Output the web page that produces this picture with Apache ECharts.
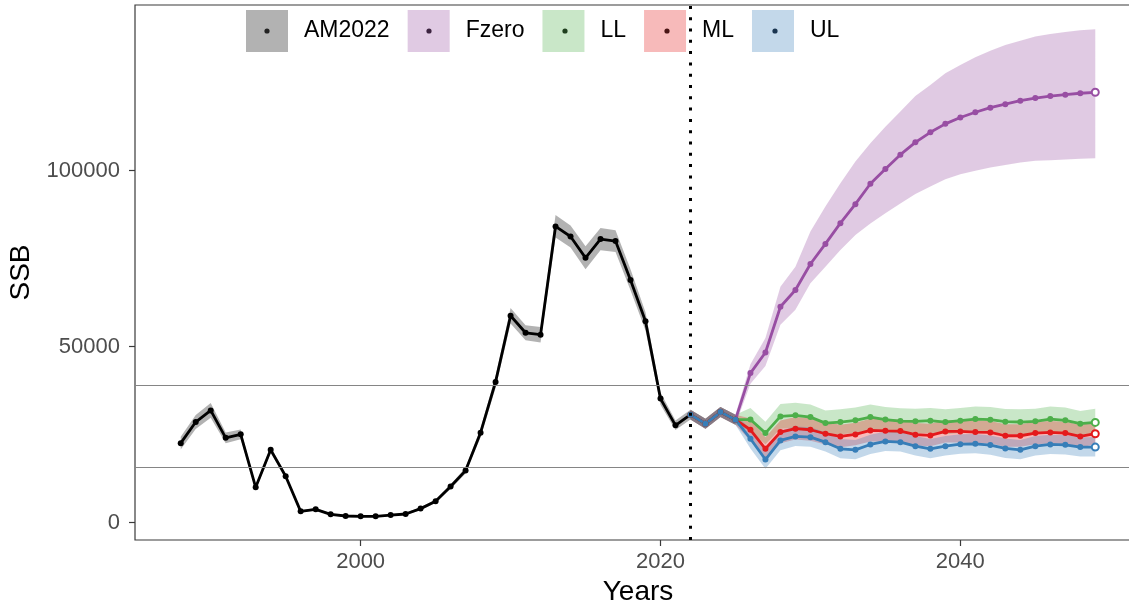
<!DOCTYPE html>
<html>
<head>
<meta charset="utf-8">
<title>SSB projections</title>
<script src="https://cdn.jsdelivr.net/npm/echarts@6/dist/echarts.min.js"></script>
<style>
  html, body { margin: 0; padding: 0; background: #fff; }
  #main { width: 1129px; height: 605px; }
</style>
</head>
<body>
<div id="main"></div>
<script>
// assessment (AM2022) estimates
var histYears = [1988, 1989, 1990, 1991, 1992, 1993, 1994, 1995, 1996, 1997,
  1998, 1999, 2000, 2001, 2002, 2003, 2004, 2005, 2006, 2007,
  2008, 2009, 2010, 2011, 2012, 2013, 2014, 2015, 2016, 2017,
  2018, 2019, 2020, 2021, 2022, 2023, 2024, 2025];
var histSSB = [22600, 28600, 31900, 24100, 25100, 10060, 20700, 13200, 3220, 3800,
  2370, 1900, 1800, 1800, 2180, 2470, 4000, 6080, 10260, 14800,
  25560, 40000, 58800, 53950, 53400, 84160, 81300, 75240, 80570, 80000,
  68970, 57200, 35250, 27650, 30690, 28100, 31440, 29270];
var histLow = [20800, 26600, 29800, 22600, 23700, 9300, 19800, 12600, 2900, 3450,
  2100, 1650, 1550, 1550, 1900, 2150, 3600, 5600, 9600, 14000,
  24300, 38300, 56600, 51800, 51200, 81000, 78200, 72000, 77400, 76900,
  66000, 54600, 33500, 26300, 29300, 26700, 30000, 27800];
var histHigh = [24400, 30600, 34000, 25600, 26500, 10800, 21600, 13800, 3550, 4150,
  2650, 2150, 2050, 2050, 2450, 2800, 4400, 6550, 10900, 15600,
  26800, 41700, 61000, 56100, 55600, 87400, 84400, 78500, 83700, 83100,
  72000, 59800, 37000, 29000, 32100, 29500, 32900, 30700];

// projection scenarios
var projYears = [2022, 2023, 2024, 2025, 2026, 2027, 2028, 2029, 2030, 2031,
  2032, 2033, 2034, 2035, 2036, 2037, 2038, 2039, 2040, 2041,
  2042, 2043, 2044, 2045, 2046, 2047, 2048, 2049];

var fzero = [30690, 28100, 31440, 29270, 42500, 48360, 61350, 66100, 73500, 79200,
  85100, 90500, 96300, 100500, 104560, 108060, 110900, 113300, 115100, 116600,
  117900, 118900, 119900, 120640, 121200, 121600, 122000, 122270];
var fzeroLow = [29300, 26700, 30000, 27800, 39500, 44500, 56200, 60500, 68000, 72700,
  77500, 81700, 85000, 87900, 90700, 93400, 95500, 97600, 99000, 100000,
  100900, 101600, 102300, 102800, 103000, 103200, 103400, 103500];
var fzeroHigh = [32100, 29500, 32900, 30700, 45000, 52500, 67000, 72700, 82700, 89800,
  96400, 102600, 107800, 112500, 116800, 121200, 124350, 127700, 130000, 132200,
  134100, 135700, 136900, 138100, 138800, 139400, 139900, 140200];

var ll = [30690, 28100, 31440, 29270, 29300, 25450, 30200, 30500, 30000, 28300,
  28600, 29070, 30000, 29300, 28880, 28790, 28980, 28600, 28980, 29440,
  29270, 28700, 28600, 28790, 29440, 29070, 28130, 28500];
var llLow = [29300, 26700, 30000, 27800, 26000, 22300, 26700, 27000, 26500, 24900,
  25100, 25500, 26400, 25800, 25400, 25300, 25500, 25100, 25500, 25900,
  25800, 25200, 25100, 25300, 25900, 25600, 24700, 25000];
var llHigh = [32100, 29500, 32900, 30700, 32600, 28700, 33700, 34100, 33600, 31900,
  32200, 32700, 33600, 32900, 32500, 32400, 32600, 32200, 32600, 33000,
  32900, 32300, 32200, 32400, 33000, 32700, 31700, 32400];

var ml = [30690, 28100, 31440, 29270, 26400, 21000, 25740, 26700, 26400, 25270,
  24500, 25080, 26220, 26100, 26030, 25000, 24800, 25930, 25930, 25740,
  25650, 24700, 24700, 25450, 25650, 25450, 24500, 25270];
var mlLow = [29300, 26700, 30000, 27800, 23300, 17900, 22600, 23600, 23300, 22200,
  21400, 22000, 23100, 23000, 22900, 21900, 21700, 22800, 22800, 22600,
  22500, 21600, 21600, 22300, 22500, 22300, 21400, 22200];
var mlHigh = [32100, 29500, 32900, 30700, 29600, 24300, 29000, 30000, 29700, 28600,
  27800, 28400, 29500, 29400, 29300, 28300, 28100, 29200, 29200, 29000,
  28900, 28000, 28000, 28700, 28900, 28700, 27800, 28600];

var ul = [30690, 28100, 31440, 29270, 23850, 17950, 23370, 24510, 24300, 22880,
  21000, 20700, 22230, 23100, 22880, 21750, 21000, 21750, 22320, 22420,
  22040, 21100, 20700, 21750, 22230, 22130, 21470, 21470];
var ulLow = [29300, 26700, 30000, 27800, 21100, 15300, 20600, 21800, 21600, 20200,
  18300, 18000, 19500, 20400, 20200, 19100, 18300, 19100, 19600, 19700,
  19300, 18400, 18000, 19100, 19500, 19400, 18800, 18800];
var ulHigh = [32100, 29500, 32900, 30700, 26600, 20700, 26200, 27300, 27100, 25700,
  23800, 23500, 25000, 25900, 25700, 24600, 23800, 24600, 25100, 25200,
  24800, 23900, 23500, 24600, 25000, 24900, 24300, 24300];

var refPoints = [39120, 15625];   // horizontal reference levels
var assessYear = 2022;            // dotted vertical line
var xTicks = [2000, 2020, 2040];
var yTicks = [0, 50000, 100000];

var FONT = '"Liberation Sans", Arial, sans-serif';

// ribbon drawn as one polygon through the axes
function band(name, years, low, high, color) {
  return {
    name: name,
    type: 'custom',
    z: 1,
    silent: true,
    itemStyle: { color: color },
    data: years.map(function (y, i) { return [y, low[i], high[i]]; }),
    encode: { x: 0, y: [1, 2] },
    renderItem: function (params, api) {
      if (params.dataIndex !== 0) return null;
      var pts = [];
      for (var i = 0; i < years.length; i++) pts.push(api.coord([years[i], high[i]]));
      for (var j = years.length - 1; j >= 0; j--) pts.push(api.coord([years[j], low[j]]));
      return { type: 'polygon', shape: { points: pts }, style: { fill: color } };
    }
  };
}

function line(name, years, vals, color, extra) {
  var s = {
    name: name,
    type: 'line',
    z: 3,
    silent: true,
    symbol: 'circle',
    symbolSize: 6,
    showSymbol: true,
    lineStyle: { width: 2.8, color: color },
    itemStyle: { color: color },
    data: years.map(function (y, i) {
      if (i === years.length - 1 && name !== 'AM2022') {
        return { value: [y, vals[i]], symbol: 'emptyCircle', symbolSize: 7 };
      }
      return [y, vals[i]];
    })
  };
  if (extra) for (var k in extra) s[k] = extra[k];
  return s;
}

var chart = echarts.init(document.getElementById('main'));

var option = {
  animation: false,
  textStyle: { fontFamily: FONT },
  grid: {
    left: 135, top: 5, right: -12, bottom: 65,
    outerBoundsMode: 'none',
    containLabel: false,
    show: true, borderColor: '#3a3a3a', borderWidth: 1.2, backgroundColor: 'transparent'
  },
  legend: {
    data: ['AM2022', 'Fzero', 'LL', 'ML', 'UL'],
    left: 246, top: 10, padding: 0,
    icon: 'rect',
    itemWidth: 42, itemHeight: 42, itemGap: 18,
    itemStyle: { borderWidth: 0 },
    textStyle: { fontSize: 23, color: '#000', padding: [0, 0, 0, 11] },
    selectedMode: false
  },
  xAxis: {
    type: 'value',
    min: 1984.95, max: 2052.05,
    name: 'Years', nameLocation: 'middle', nameGap: 32,
    nameTextStyle: { fontSize: 28, color: '#000' },
    axisLine: { show: false, onZero: false },
    axisTick: { show: true, length: 6, lineStyle: { color: '#3a3a3a', width: 1.2 }, customValues: xTicks },
    axisLabel: {
      fontSize: 22, color: '#4d4d4d', margin: 11, customValues: xTicks,
      formatter: function (v) { return String(v); }
    },
    splitLine: { show: false }
  },
  yAxis: {
    type: 'value',
    min: -4915, max: 147070,
    name: 'SSB', nameLocation: 'middle', nameGap: 90, nameRotate: 90,
    nameTextStyle: { fontSize: 28, color: '#000' },
    axisLine: { show: false, onZero: false },
    axisTick: { show: true, length: 6, lineStyle: { color: '#3a3a3a', width: 1.2 }, customValues: yTicks },
    axisLabel: {
      fontSize: 22, color: '#4d4d4d', margin: 15, customValues: yTicks,
      formatter: function (v) { return String(v); }
    },
    splitLine: { show: false }
  },
  graphic: [
    // dots inside the legend keys
    { type: 'circle', shape: { cx: 267, cy: 31, r: 2.6 }, style: { fill: '#222' }, z: 100 },
    { type: 'circle', shape: { cx: 429, cy: 31, r: 2.6 }, style: { fill: '#3c2340' }, z: 100 },
    { type: 'circle', shape: { cx: 565, cy: 31, r: 2.6 }, style: { fill: '#1f3f1e' }, z: 100 },
    { type: 'circle', shape: { cx: 667, cy: 31, r: 2.6 }, style: { fill: '#4a1414' }, z: 100 },
    { type: 'circle', shape: { cx: 775, cy: 31, r: 2.6 }, style: { fill: '#1a3550' }, z: 100 }
  ],
  series: [
    band('AM2022', histYears, histLow, histHigh, 'rgba(0,0,0,0.3)'),
    band('Fzero', projYears, fzeroLow, fzeroHigh, 'rgba(152,78,163,0.3)'),
    band('LL', projYears, llLow, llHigh, 'rgba(77,175,74,0.3)'),
    band('ML', projYears, mlLow, mlHigh, 'rgba(228,26,28,0.3)'),
    band('UL', projYears, ulLow, ulHigh, 'rgba(55,126,184,0.3)'),
    line('AM2022', histYears, histSSB, '#000000', {
      markLine: {
        silent: true,
        symbol: ['none', 'none'],
        label: { show: false },
        data: [
          { yAxis: refPoints[0], lineStyle: { color: '#858585', width: 1.2, type: 'solid' } },
          { yAxis: refPoints[1], lineStyle: { color: '#858585', width: 1.2, type: 'solid' } },
          { xAxis: assessYear, lineStyle: { color: '#000', width: 3, type: [3, 8.3] } }
        ]
      }
    }),
    line('Fzero', projYears, fzero, '#984EA3'),
    line('LL', projYears, ll, '#4DAF4A'),
    line('ML', projYears, ml, '#E41A1C'),
    line('UL', projYears, ul, '#377EB8')
  ]
};

chart.setOption(option);
</script>
</body>
</html>
